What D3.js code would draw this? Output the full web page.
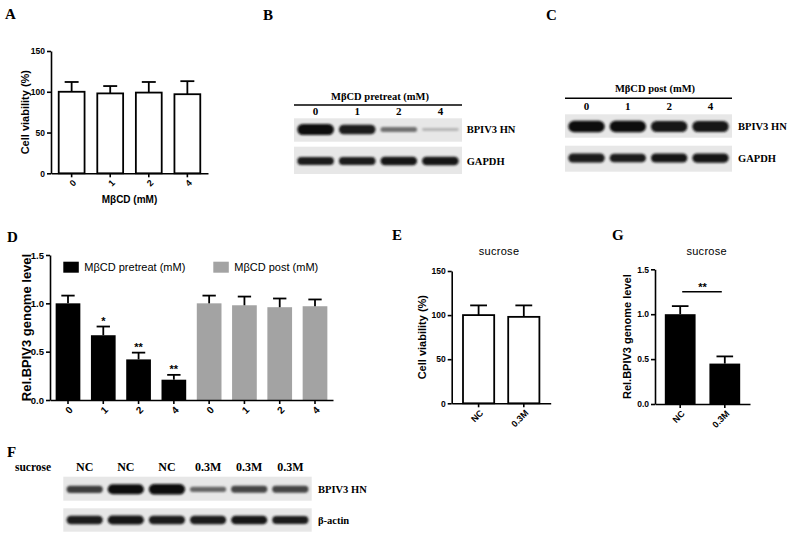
<!DOCTYPE html>
<html>
<head>
<meta charset="utf-8">
<script src="https://cdn.jsdelivr.net/npm/d3@7"></script>
<style>body{margin:0;background:#fff;}</style>
</head>
<body>
<div id="fig"></div>
<script>
// ---- data ----
var doseLabels = ["0", "1", "2", "4"];
var viabilityMean = [100, 98, 99, 97];
var viabilitySD = [12, 9, 13, 16];

var pretreatMean = [1.00, 0.67, 0.42, 0.21];
var pretreatSD = [0.08, 0.09, 0.07, 0.05];
var pretreatSig = ["", "*", "**", "**"];
var postMean = [1.00, 0.98, 0.96, 0.97];
var postSD = [0.08, 0.09, 0.09, 0.07];

var sucroseGroups = ["NC", "0.3M"];
var sucroseViabilityMean = [100, 98];
var sucroseViabilitySD = [11, 13];
var sucroseGenomeMean = [1.00, 0.45];
var sucroseGenomeSD = [0.09, 0.08];
var sucroseGenomeSig = "**";

var pctTicks = [0, 50, 100, 150];
var ratioTicks = [0, 0.5, 1.0, 1.5];

// western blot band strength (0 = nothing, 1 = strongest)
var blotBHN = [1.0, 0.85, 0.3, 0.05];
var blotBGAPDH = [0.85, 0.85, 0.9, 0.92];
var blotCHN = [0.95, 0.95, 0.92, 0.9];
var blotCGAPDH = [0.85, 0.82, 0.88, 0.9];
var blotFLanes = ["NC", "NC", "NC", "0.3M", "0.3M", "0.3M"];
var blotFHN = [0.6, 0.95, 1.0, 0.35, 0.55, 0.55];
var blotFActin = [0.85, 0.9, 0.85, 0.85, 0.88, 0.82];

var W = 792, H = 539;
var sans = "'Liberation Sans', Arial, sans-serif";
var serif = "'Liberation Serif', 'Times New Roman', serif";

var svg = d3.select("#fig").append("svg")
  .attr("width", W).attr("height", H)
  .style("background", "#fff");

var defs = svg.append("defs");
defs.append("filter").attr("id", "blur")
  .attr("x", "-20%").attr("y", "-80%").attr("width", "140%").attr("height", "260%")
  .append("feGaussianBlur").attr("stdDeviation", 1.3);

function panelLetter(t, x, y) {
  svg.append("text").attr("x", x).attr("y", y).text(t)
    .style("font-family", serif).style("font-weight", "bold").style("font-size", "15px");
}

// Prism style bar chart with upper error bars
function barChart(o) {
  var g = svg.append("g");
  var x = d3.scaleBand().domain(d3.range(o.means.length))
    .range([o.left, o.right]).paddingInner(o.padIn).paddingOuter(o.padOut);
  var y = d3.scaleLinear().domain([0, o.max]).range([o.bottom, o.top]);
  var bw = x.bandwidth();

  g.selectAll("rect.bar").data(o.means).enter().append("rect")
    .attr("class", "bar")
    .attr("x", function(d, i) { return x(i); })
    .attr("y", function(d) { return y(d); })
    .attr("width", bw)
    .attr("height", function(d) { return o.bottom - y(d); })
    .style("fill", function(d, i) { return o.fills[i]; })
    .style("stroke", function(d, i) { return o.fills[i] == "#fff" ? "#000" : "none"; })
    .style("stroke-width", 1.8);

  // error whiskers
  g.selectAll("line.err").data(o.means).enter().append("line")
    .attr("x1", function(d, i) { return x(i) + bw / 2; })
    .attr("x2", function(d, i) { return x(i) + bw / 2; })
    .attr("y1", function(d) { return y(d); })
    .attr("y2", function(d, i) { return y(d + o.sds[i]); })
    .style("stroke", "#000").style("stroke-width", 1.8);
  g.selectAll("line.cap").data(o.means).enter().append("line")
    .attr("x1", function(d, i) { return x(i) + bw / 2 - bw * 0.27; })
    .attr("x2", function(d, i) { return x(i) + bw / 2 + bw * 0.27; })
    .attr("y1", function(d, i) { return y(d + o.sds[i]); })
    .attr("y2", function(d, i) { return y(d + o.sds[i]); })
    .style("stroke", "#000").style("stroke-width", 1.8);

  // axes
  var gy = g.append("g").attr("transform", "translate(" + o.left + ",0)")
    .call(d3.axisLeft(y).tickValues(o.ticks).tickFormat(o.fmt).tickSize(4).tickSizeOuter(0));
  var gx = g.append("g").attr("transform", "translate(0," + o.bottom + ")")
    .call(d3.axisBottom(x).tickSize(4).tickSizeOuter(0)
      .tickFormat(function(i) { return o.labels[i]; }));
  [gy, gx].forEach(function(a) {
    a.select(".domain").style("stroke", "#000").style("stroke-width", 1.6);
    a.selectAll(".tick line").style("stroke", "#000").style("stroke-width", 1.6);
    a.selectAll("text").style("font-family", sans).style("font-weight", "bold")
      .style("font-size", o.tickSize + "px").style("fill", "#000");
  });
  gy.selectAll("text").attr("x", -6);
  gx.selectAll("text")
    .attr("x", 0).attr("y", 0).attr("dy", "0.35em")
    .attr("transform", "translate(3,8) rotate(-45)")
    .style("text-anchor", "end")
    .style("font-size", (o.tickSize + 0.5) + "px");

  // y title
  g.append("text")
    .attr("transform", "translate(" + o.yTitleX + "," + ((o.top + o.bottom) / 2) + ") rotate(-90)")
    .attr("text-anchor", "middle")
    .text(o.yTitle)
    .style("font-family", sans).style("font-weight", "bold").style("font-size", o.yTitleSize + "px");

  return {x: x, y: y, g: g, bw: bw};
}

// western blot strip drawn from band strengths
function blot(o) {
  var g = svg.append("g");
  g.append("rect").attr("x", o.left).attr("y", o.top)
    .attr("width", o.right - o.left).attr("height", o.bottom - o.top)
    .style("fill", "#e7e7e7");
  var lane = d3.scaleBand().domain(d3.range(o.vals.length))
    .range([o.left, o.right]).paddingInner(0.12).paddingOuter(0.08);
  var shade = d3.scalePow().exponent(0.55).domain([0, 1]).range(["#dedede", "#080808"]);
  var thick = d3.scaleLinear().domain([0, 1]).range([2.5, o.thick]);
  var cy = o.center;
  g.selectAll("rect.band").data(o.vals).enter().append("rect")
    .attr("x", function(d, i) { return lane(i); })
    .attr("width", lane.bandwidth())
    .attr("y", function(d) { return cy - thick(d) / 2; })
    .attr("height", function(d) { return thick(d); })
    .attr("rx", function(d) { return thick(d) / 2; })
    .style("fill", function(d) { return shade(d); })
    .attr("filter", "url(#blur)");
  g.append("text").attr("x", o.labelX).attr("y", cy + 3.5).text(o.label)
    .style("font-family", serif).style("font-weight", "bold").style("font-size", o.labelSize + "px");
  return lane;
}

function laneLabels(lane, labels, y, size) {
  svg.append("g").selectAll("text").data(labels).enter().append("text")
    .attr("x", function(d, i) { return lane(i) + lane.bandwidth() / 2; })
    .attr("y", y)
    .attr("text-anchor", "middle")
    .text(function(d) { return d; })
    .style("font-family", serif).style("font-weight", "bold").style("font-size", size + "px");
}

// ---------- A ----------
panelLetter("A", 5, 19);
barChart({
  left: 51, right: 208, top: 51, bottom: 173.3, max: 150,
  padIn: 0.33, padOut: 0.2,
  means: viabilityMean, sds: viabilitySD, labels: doseLabels,
  fills: ["#fff", "#fff", "#fff", "#fff"],
  ticks: pctTicks, fmt: d3.format("d"), tickSize: 8.5,
  yTitle: "Cell viability (%)", yTitleX: 28.5, yTitleSize: 11
});
svg.append("text").attr("x", 129.5).attr("y", 203).attr("text-anchor", "middle")
  .text("MβCD (mM)")
  .style("font-family", sans).style("font-weight", "bold").style("font-size", "10px");

// ---------- B ----------
panelLetter("B", 263, 20);
svg.append("text").attr("x", 380).attr("y", 100).attr("text-anchor", "middle")
  .text("MβCD pretreat (mM)")
  .style("font-family", serif).style("font-weight", "bold").style("font-size", "10.5px");
svg.append("line").attr("x1", 294).attr("x2", 462).attr("y1", 105).attr("y2", 105)
  .style("stroke", "#000").style("stroke-width", 1.5);
var laneB = blot({left: 294, right: 462, top: 118.3, bottom: 141.7, center: 129.5,
  vals: blotBHN, thick: 11, label: "BPIV3 HN", labelX: 466.7, labelSize: 10.5});
blot({left: 294, right: 462, top: 146.7, bottom: 174, center: 161,
  vals: blotBGAPDH, thick: 9, label: "GAPDH", labelX: 466.7, labelSize: 10.5});
laneLabels(laneB, doseLabels, 115, 11);

// ---------- C ----------
panelLetter("C", 546, 20);
svg.append("text").attr("x", 655).attr("y", 92.3).attr("text-anchor", "middle")
  .text("MβCD post (mM)")
  .style("font-family", serif).style("font-weight", "bold").style("font-size", "10.5px");
svg.append("line").attr("x1", 565).attr("x2", 732).attr("y1", 98.3).attr("y2", 98.3)
  .style("stroke", "#000").style("stroke-width", 1.5);
var laneC = blot({left: 565, right: 732, top: 114.3, bottom: 137.7, center: 126.5,
  vals: blotCHN, thick: 12, label: "BPIV3 HN", labelX: 738, labelSize: 10.5});
blot({left: 565, right: 732, top: 145.7, bottom: 171.7, center: 158,
  vals: blotCGAPDH, thick: 10, label: "GAPDH", labelX: 738, labelSize: 10.5});
laneLabels(laneC, doseLabels, 110, 11);

// ---------- D ----------
panelLetter("D", 7, 242);
var dMeans = pretreatMean.concat(postMean);
var dSDs = pretreatSD.concat(postSD);
var dFills = pretreatMean.map(function() { return "#000"; })
  .concat(postMean.map(function() { return "#a3a3a3"; }));
var d = barChart({
  left: 50, right: 333, top: 255, bottom: 400, max: 1.5,
  padIn: 0.3, padOut: 0.16,
  means: dMeans, sds: dSDs, labels: doseLabels.concat(doseLabels),
  fills: dFills,
  ticks: ratioTicks, fmt: d3.format(".1f"), tickSize: 9.5,
  yTitle: "Rel.BPIV3 genome level", yTitleX: 30.5, yTitleSize: 13
});
d.g.selectAll("text.sig").data(pretreatSig).enter().append("text")
  .attr("x", function(s, i) { return d.x(i) + d.bw / 2; })
  .attr("y", function(s, i) { return d.y(pretreatMean[i] + pretreatSD[i]) - 1.5; })
  .attr("text-anchor", "middle")
  .text(function(s) { return s; })
  .style("font-family", sans).style("font-weight", "bold").style("font-size", "11px");
// legend
var legendItems = [
  {name: "MβCD pretreat (mM)", fill: "#000", x: 63.3},
  {name: "MβCD post (mM)", fill: "#a3a3a3", x: 213.3}
];
var leg = svg.append("g").selectAll("g").data(legendItems).enter().append("g");
leg.append("rect").attr("x", function(e) { return e.x; }).attr("y", 261.7)
  .attr("width", 15.5).attr("height", 11)
  .style("fill", function(e) { return e.fill; });
leg.append("text").attr("x", function(e) { return e.x + 21; }).attr("y", 271.3)
  .text(function(e) { return e.name; })
  .style("font-family", sans).style("font-size", "11px");

// ---------- E ----------
panelLetter("E", 392, 240);
svg.append("text").attr("x", 499).attr("y", 255).attr("text-anchor", "middle")
  .text("sucrose")
  .style("font-family", sans).style("font-size", "11px").style("letter-spacing", "0.3px");
barChart({
  left: 451.7, right: 550.7, top: 271, bottom: 403.3, max: 150,
  padIn: 0.31, padOut: 0.25,
  means: sucroseViabilityMean, sds: sucroseViabilitySD, labels: sucroseGroups,
  fills: ["#fff", "#fff"],
  ticks: pctTicks, fmt: d3.format("d"), tickSize: 8.5,
  yTitle: "Cell viability (%)", yTitleX: 426, yTitleSize: 11
});

// ---------- G ----------
panelLetter("G", 612, 240);
svg.append("text").attr("x", 706.7).attr("y", 255).attr("text-anchor", "middle")
  .text("sucrose")
  .style("font-family", sans).style("font-size", "11px").style("letter-spacing", "0.3px");
var gPanel = barChart({
  left: 655, right: 750, top: 269.3, bottom: 404, max: 1.5,
  padIn: 0.31, padOut: 0.22,
  means: sucroseGenomeMean, sds: sucroseGenomeSD, labels: sucroseGroups,
  fills: ["#000", "#000"],
  ticks: ratioTicks, fmt: d3.format(".1f"), tickSize: 8.5,
  yTitle: "Rel.BPIV3 genome level", yTitleX: 631, yTitleSize: 11
});
var sigY = gPanel.y(d3.max(sucroseGenomeMean, function(m, i) { return m + sucroseGenomeSD[i]; }) + 0.16);
gPanel.g.append("line")
  .attr("x1", gPanel.x(0) + gPanel.bw / 2 + 2).attr("x2", gPanel.x(1) + gPanel.bw / 2 - 3)
  .attr("y1", sigY).attr("y2", sigY)
  .style("stroke", "#000").style("stroke-width", 1.6);
gPanel.g.append("text")
  .attr("x", (gPanel.x(0) + gPanel.x(1)) / 2 + gPanel.bw / 2).attr("y", sigY - 0.5)
  .attr("text-anchor", "middle").text(sucroseGenomeSig)
  .style("font-family", sans).style("font-weight", "bold").style("font-size", "11px");

// ---------- F ----------
panelLetter("F", 7, 457);
svg.append("text").attr("x", 15).attr("y", 470.7).text("sucrose")
  .style("font-family", serif).style("font-weight", "bold").style("font-size", "11.5px");
var laneF = blot({left: 63.3, right: 311.7, top: 476.7, bottom: 500.7, center: 489.3,
  vals: blotFHN, thick: 10.5, label: "BPIV3 HN", labelX: 318, labelSize: 10.5});
blot({left: 63.3, right: 311.7, top: 508.3, bottom: 531.7, center: 520,
  vals: blotFActin, thick: 9.5, label: "β-actin", labelX: 318, labelSize: 10.5});
laneLabels(laneF, blotFLanes, 470.7, 12);
</script>
</body>
</html>
